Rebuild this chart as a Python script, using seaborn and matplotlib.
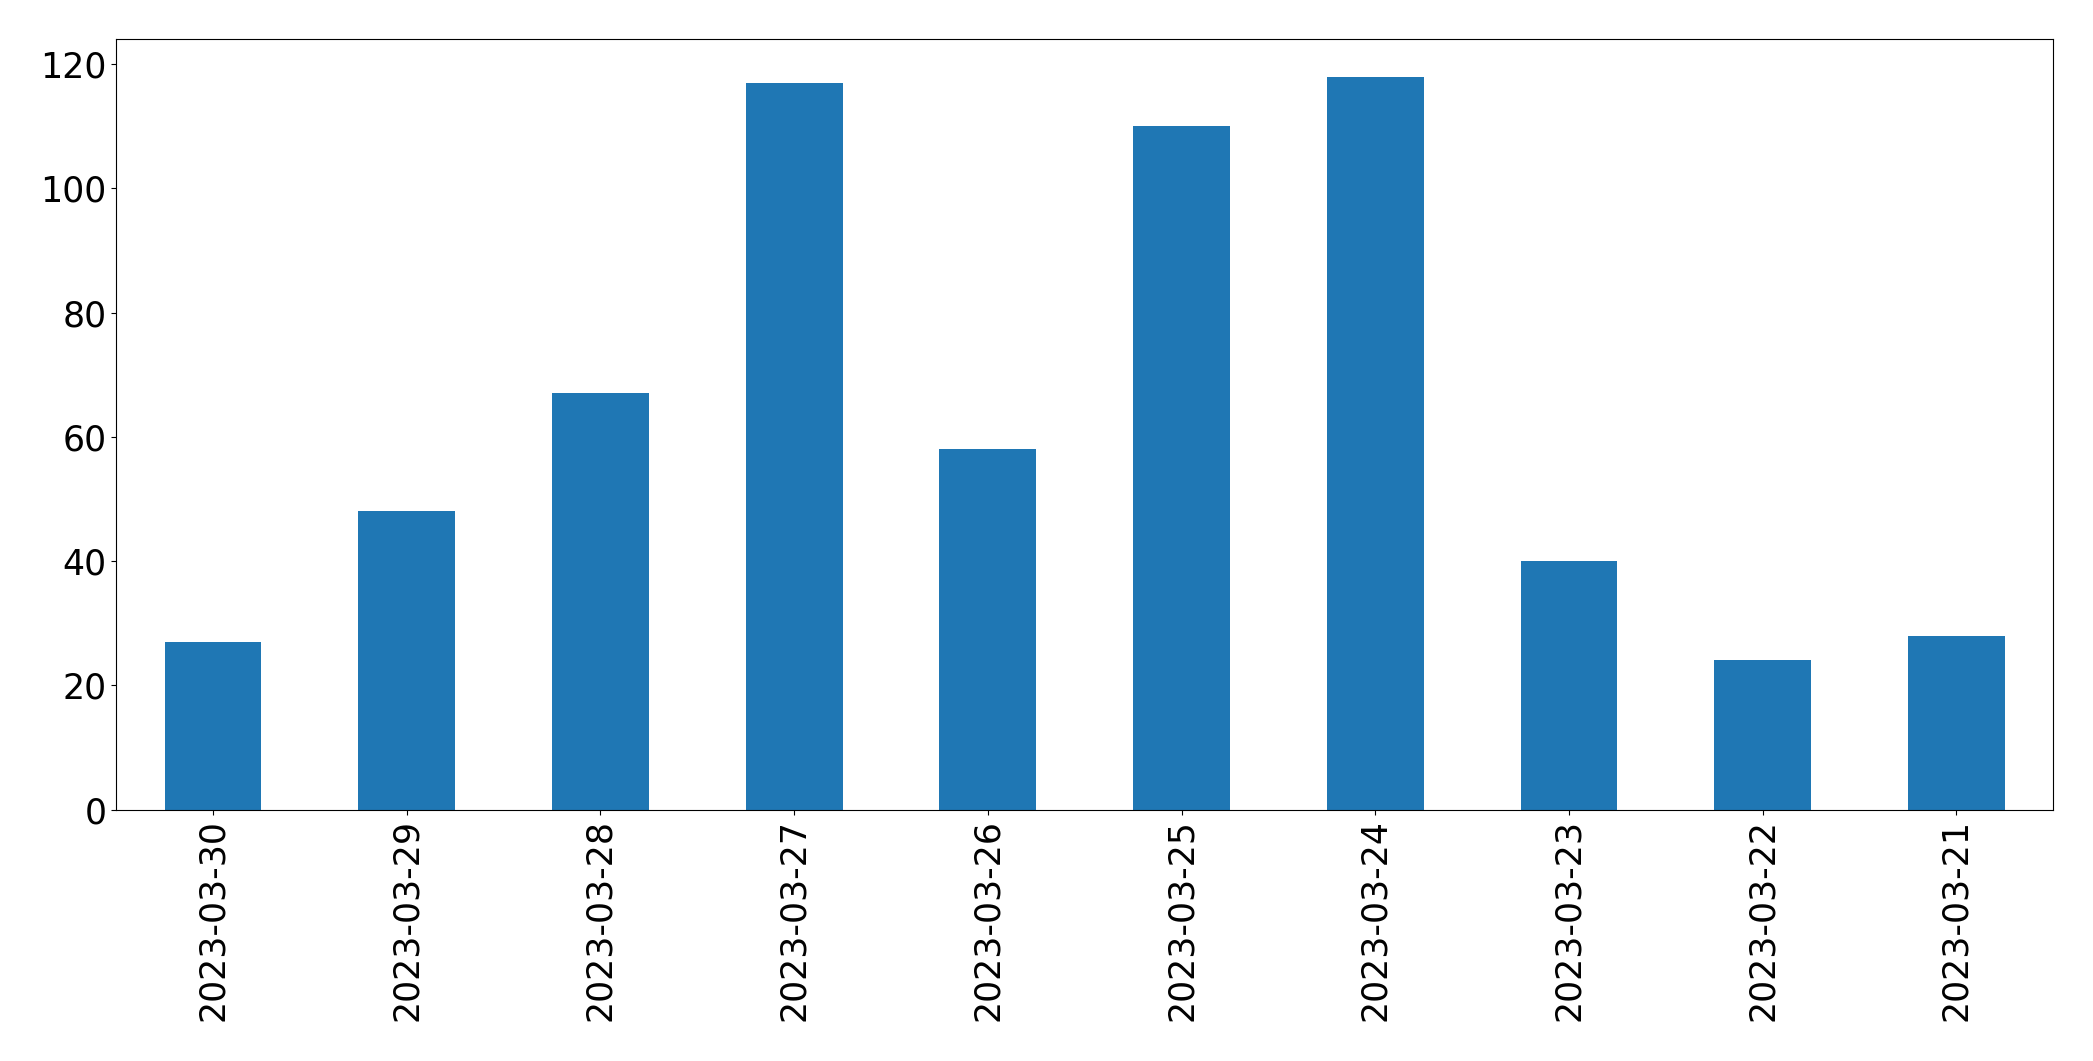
import matplotlib
matplotlib.use("Agg")
import pandas as pd
import seaborn as sns
from matplotlib import pyplot as plt

dates = ["2023-03-30", "2023-03-29", "2023-03-28", "2023-03-27", "2023-03-26",
         "2023-03-25", "2023-03-24", "2023-03-23", "2023-03-22", "2023-03-21"]
counts = [27, 48, 67, 117, 58, 110, 118, 40, 24, 28]

data = pd.DataFrame({"date": dates, "count": counts})

fig, ax = plt.subplots(figsize=(20.93, 10.61), dpi=100)
sns.barplot(data=data, x="date", y="count", color="#1f77b4", saturation=1,
            width=0.5, linewidth=0, ax=ax)
ax.set_xlabel("")
ax.set_ylabel("")
ax.tick_params(axis="both", labelsize=25)
plt.setp(ax.get_xticklabels(), rotation=90)
ax.set_xlim(-0.5, len(dates) - 0.5)
ax.set_ylim(0, 124)
fig.subplots_adjust(left=0.0555, right=0.981, top=0.963, bottom=0.237)
fig.savefig("out.png", dpi=100)
